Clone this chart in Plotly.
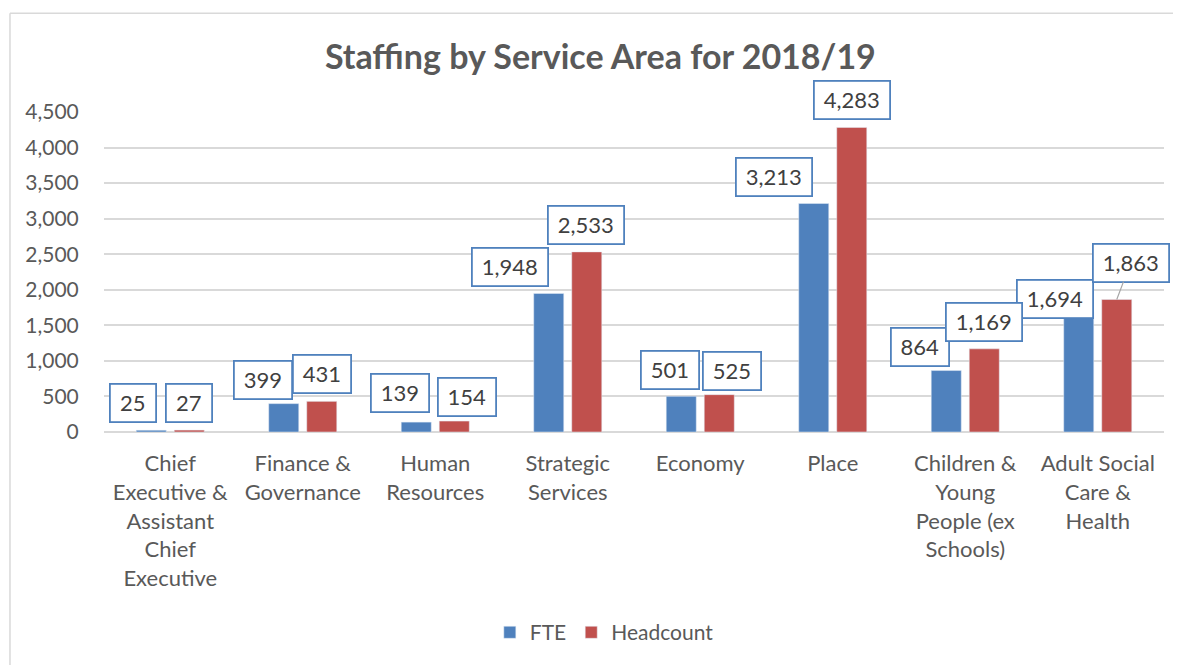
import plotly.graph_objects as go

categories = ["Chief Executive & Assistant Chief Executive", "Finance & Governance",
              "Human Resources", "Strategic Services", "Economy", "Place",
              "Children & Young People (ex Schools)", "Adult Social Care & Health"]
tick_labels = ["Chief<br>Executive &<br>Assistant<br>Chief<br>Executive",
               "Finance &<br>Governance", "Human<br>Resources", "Strategic<br>Services",
               "Economy", "Place", "Children &<br>Young<br>People (ex<br>Schools)",
               "Adult Social<br>Care &<br>Health"]
fte = [25, 399, 139, 1948, 501, 3213, 864, 1694]
headcount = [27, 431, 154, 2533, 525, 4283, 1169, 1863]

# label box offsets (pixels) relative to the top-centre of each bar
fte_off = [(-18, 27), (-21, 24), (-16, 29), (-39, 26), (-11, 26), (-40, 27), (-26, 24), (-24, 13)]
hc_off = [(0, 27), (0, 27), (13, 24), (-1, 27), (13, 24), (0, 27), (0, 27), (14, 37)]

BLUE = "#4F81BD"
RED = "#C0504D"
TXT = "#595959"
FONT = "Lato"

idx = list(range(len(categories)))
fig = go.Figure()
fig.add_trace(go.Bar(x=idx, y=fte, name="FTE", marker_color=BLUE))
fig.add_trace(go.Bar(x=idx, y=headcount, name="Headcount", marker_color=RED))

BAR_SHIFT = 19
ann = []
def box_w(s):
    return {2: 44, 3: 56, 5: 74}.get(len(s), 14 * len(s) + 4)

for series, offs, sign, last_arrow in ((fte, fte_off, -1, False), (headcount, hc_off, 1, True)):
    for i, v in enumerate(series):
        s = f"{v:,}"
        dx, dy = offs[i]
        common = dict(x=i, y=v, xref="x", yref="y", text=s,
                      font=dict(family=FONT, size=22, color="#404040"),
                      bordercolor=BLUE, borderwidth=1.8, borderpad=0,
                      bgcolor="white", width=box_w(s), height=36)
        if last_arrow and i == len(series) - 1:
            ann.append(dict(common, showarrow=True, xshift=sign * BAR_SHIFT,
                            ax=dx, ay=-dy, arrowhead=0, arrowwidth=1.2,
                            arrowcolor="#A6A6A6"))
        else:
            ann.append(dict(common, showarrow=False,
                            xshift=sign * BAR_SHIFT + dx, yshift=dy))

border = dict(color="#D9D9D9", width=1.5)
fig.update_layout(
    width=1173, height=657,
    margin=dict(l=96, r=17, t=104, b=231),
    paper_bgcolor="white", plot_bgcolor="white",
    title=dict(text="<b>Staffing by Service Area for 2018/19</b>", x=0.505, xanchor="center",
               y=0.925, yanchor="middle",
               font=dict(family=FONT, size=34, color=TXT)),
    barmode="group", bargap=0.426, bargroupgap=0.21,
    showlegend=True,
    legend=dict(orientation="h", x=0.472, xanchor="center", y=-0.627, yanchor="middle",
                font=dict(family=FONT, size=21, color=TXT),
                traceorder="normal"),
    annotations=ann,
    shapes=[dict(type="line", xref="paper", yref="paper", x0=-0.0887, x1=1.2,
                 y0=1.3085, y1=1.3085, line=border, layer="below"),
            dict(type="line", xref="paper", yref="paper", x0=-0.0887, x1=-0.0887,
                 y0=-0.8, y1=1.3085, line=border, layer="below")],
    font=dict(family=FONT, color=TXT),
)
fig.update_xaxes(tickmode="array", tickvals=idx, ticktext=tick_labels,
                 range=[-0.5, len(categories) - 0.5],
                 tickfont=dict(family=FONT, size=22, color=TXT),
                 ticks="outside", ticklen=12, tickcolor="rgba(0,0,0,0)",
                 showgrid=False, showline=False, zeroline=False)
fig.update_yaxes(range=[0, 4500], dtick=500, tickformat=",",
                 tickfont=dict(family=FONT, size=21, color=TXT),
                 showgrid=True, gridcolor="#D9D9D9", gridwidth=1.5,
                 zeroline=True, zerolinecolor="#D9D9D9", zerolinewidth=1.5,
                 ticks="outside", ticklen=20, tickcolor="rgba(0,0,0,0)",
                 showline=False)

fig.write_html("out.html")
